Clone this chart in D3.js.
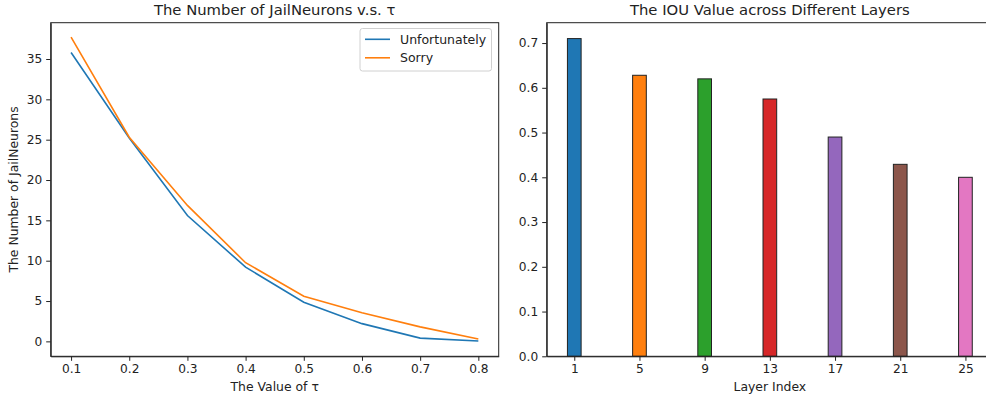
<!DOCTYPE html>
<meta charset="utf-8">
<style>
body { margin: 0; background: #fff; }
text { font-family: "DejaVu Sans", sans-serif; fill: #222; }
.title { font-size: 14.8px; }
.label { font-size: 12.4px; }
.legend { font-size: 12.5px; }
</style>
<body>
<script src="https://d3js.org/d3.v7.min.js"></script>
<script>

let taus = [0.1, 0.2, 0.3, 0.4, 0.5, 0.6, 0.7, 0.8];
let unfortunately = [35.8, 25.2, 15.6, 9.2, 4.85, 2.2, 0.4, 0.05];
let sorry = [37.7, 25.3, 16.85, 9.75, 5.6, 3.55, 1.8, 0.3];

let layers = ["1", "5", "9", "13", "17", "21", "25"];
let iou = [0.71, 0.628, 0.620, 0.575, 0.490, 0.429, 0.400];
let barColors = ["#1f77b4", "#ff7f0e", "#2ca02c", "#d62728", "#9467bd", "#8c564b", "#e377c2"];

let leftTicks = [0, 5, 10, 15, 20, 25, 30, 35];
let rightTicks = [0, 0.1, 0.2, 0.3, 0.4, 0.5, 0.6, 0.7];

let width = 986;
let height = 396;

let svg = d3.select("body").append("svg")
    .attr("width", width)
    .attr("height", height);

// ---- left panel: line chart
let L = {left: 50.7, right: 498.7, top: 22.7, bottom: 356.3};

let x1 = d3.scaleLinear().domain([0.065, 0.835]).range([L.left, L.right]);
let y1 = d3.scaleLinear().domain([-1.85, 39.5]).range([L.bottom, L.top]);

let g1 = svg.append("g");

let line = d3.line()
    .x((d, i) => x1(taus[i]))
    .y(d => y1(d));

g1.append("path")
    .datum(unfortunately)
    .attr("d", line)
    .attr("fill", "none")
    .attr("stroke", "#1f77b4")
    .attr("stroke-width", 1.6);

g1.append("path")
    .datum(sorry)
    .attr("d", line)
    .attr("fill", "none")
    .attr("stroke", "#ff7f0e")
    .attr("stroke-width", 1.6);

g1.append("g")
    .attr("transform", `translate(0,${L.bottom})`)
    .call(d3.axisBottom(x1).tickValues(taus).tickFormat(d3.format(".1f")).tickSize(4.5).tickSizeOuter(0).tickPadding(4));

g1.append("g")
    .attr("transform", `translate(${L.left},0)`)
    .call(d3.axisLeft(y1).tickValues(leftTicks).tickSize(4.5).tickSizeOuter(0).tickPadding(4));

g1.append("rect")
    .attr("x", L.left).attr("y", L.top)
    .attr("width", L.right - L.left).attr("height", L.bottom - L.top)
    .attr("fill", "none").attr("stroke", "#222").attr("stroke-width", 1);

g1.append("text").attr("class", "title")
    .attr("x", (L.left + L.right) / 2).attr("y", 15)
    .attr("text-anchor", "middle")
    .text("The Number of JailNeurons v.s. τ");

g1.append("text").attr("class", "label")
    .attr("x", (L.left + L.right) / 2).attr("y", 391)
    .attr("text-anchor", "middle")
    .text("The Value of τ");

g1.append("text").attr("class", "label")
    .attr("transform", `translate(18,${(L.top + L.bottom) / 2}) rotate(-90)`)
    .attr("text-anchor", "middle")
    .text("The Number of JailNeurons");

// legend
let leg = g1.append("g");
leg.append("rect")
    .attr("x", 360).attr("y", 28.5).attr("width", 131.5).attr("height", 42.5)
    .attr("rx", 2.5)
    .attr("fill", "#fff").attr("stroke", "#d0d0d0").attr("stroke-width", 1);
[["Unfortunately", "#1f77b4"], ["Sorry", "#ff7f0e"]].forEach(function(d, i) {
  let yy = 39.3 + i * 18.5;
  leg.append("line")
      .attr("x1", 365).attr("x2", 390).attr("y1", yy).attr("y2", yy)
      .attr("stroke", d[1]).attr("stroke-width", 1.6);
  leg.append("text").attr("class", "legend")
      .attr("x", 400).attr("y", yy + 4.4)
      .text(d[0]);
});

// ---- right panel: bar chart
let R = {left: 546.7, right: 993, top: 22.7, bottom: 356.3};

let x2 = d3.scaleLinear().domain([-0.423, 6.423]).range([R.left, R.right]);
let y2 = d3.scaleLinear().domain([0, 0.7455]).range([R.bottom, R.top]);
let bw = 0.21;

let g2 = svg.append("g");

g2.selectAll(".bar")
  .data(iou)
    .enter().append("rect")
      .attr("class", "bar")
      .attr("x", (d, i) => x2(i - bw / 2))
      .attr("y", d => y2(d))
      .attr("width", x2(bw) - x2(0))
      .attr("height", d => y2(0) - y2(d))
      .attr("fill", (d, i) => barColors[i])
      .attr("stroke", "#222")
      .attr("stroke-width", 1);

g2.append("g")
    .attr("transform", `translate(0,${R.bottom})`)
    .call(d3.axisBottom(x2).tickValues(d3.range(layers.length)).tickFormat(i => layers[i]).tickSize(4.5).tickSizeOuter(0).tickPadding(4));

g2.append("g")
    .attr("transform", `translate(${R.left},0)`)
    .call(d3.axisLeft(y2).tickValues(rightTicks).tickFormat(d3.format(".1f")).tickSize(4.5).tickSizeOuter(0).tickPadding(4));

g2.append("rect")
    .attr("x", R.left).attr("y", R.top)
    .attr("width", R.right - R.left).attr("height", R.bottom - R.top)
    .attr("fill", "none").attr("stroke", "#222").attr("stroke-width", 1);

g2.append("text").attr("class", "title")
    .attr("x", (R.left + R.right) / 2).attr("y", 15)
    .attr("text-anchor", "middle")
    .text("The IOU Value across Different Layers");

g2.append("text").attr("class", "label")
    .attr("x", (R.left + R.right) / 2).attr("y", 391)
    .attr("text-anchor", "middle")
    .text("Layer Index");

svg.selectAll(".domain").attr("stroke", "#222");
svg.selectAll(".tick line").attr("stroke", "#222");
svg.selectAll(".tick text").attr("fill", "#222").attr("font-family", "DejaVu Sans, sans-serif").attr("font-size", 12.2);

</script>
</body>
